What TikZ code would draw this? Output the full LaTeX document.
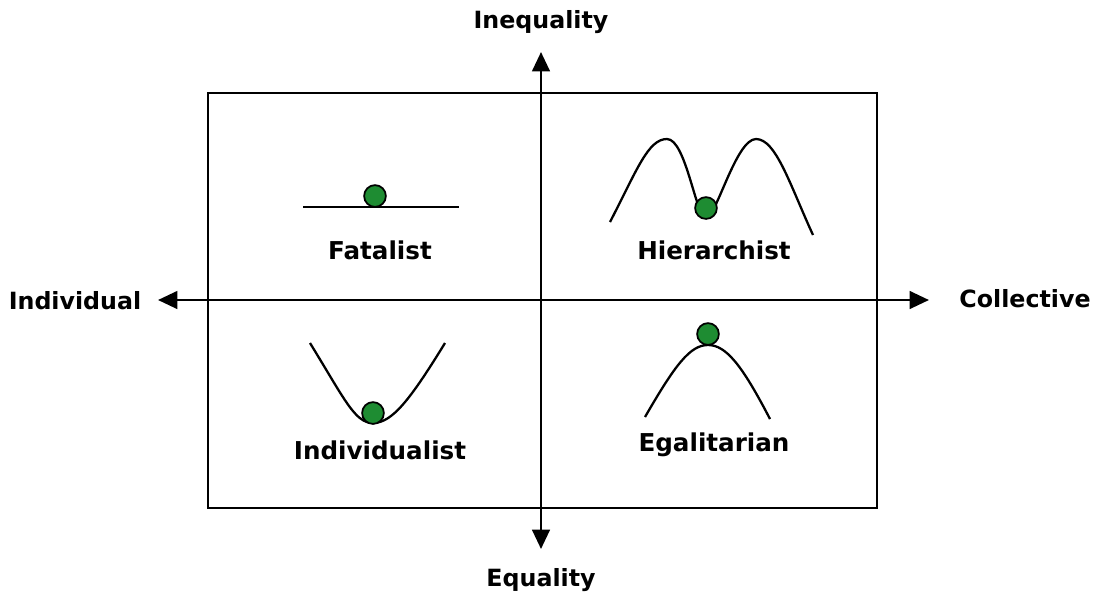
\documentclass[tikz,border=0pt]{standalone}
\usepackage{fontspec}
\setmainfont{DejaVu Sans}
\usetikzlibrary{arrows.meta}
\definecolor{ballgreen}{RGB}{30,140,50}

\begin{document}
\begin{tikzpicture}[
    x=0.02cm,y=-0.02cm,
    axis/.style={line width=1.5pt,{Triangle[length=11pt,width=10pt]}-{Triangle[length=11pt,width=10pt]}},
    frame/.style={line width=1.3pt},
    curve/.style={line width=1.3pt},
    ball/.style={draw=black,line width=1pt,fill=ballgreen},
    axlbl/.style={font=\bfseries\fontsize{13.5}{15}\selectfont},
    qlbl/.style={font=\bfseries\fontsize{14}{16}\selectfont}
]
\useasboundingbox (0,0) rectangle (1099,600);

% frame
\draw[frame] (208,93) rectangle (877,508);

% axes
\coordinate (top) at (541,52);
\coordinate (bot) at (541,549);
\coordinate (lft) at (158,300);
\coordinate (rgt) at (929,300);
\draw[axis] (bot) -- (top);
\draw[axis] (lft) -- (rgt);
\node[axlbl] (ineq) at (541,22) {Inequality};
\node[axlbl] (eq) at (541,580) {Equality};
\node[axlbl] (indiv) at (75,301) {Individual};
\node[axlbl] (coll) at (1025,299) {Collective};

% fatalist: flat
\draw[curve] (303,207) -- (459,207);
\filldraw[ball] (375,196) circle (6.2pt);
\node[qlbl] (fat) at (380,250) {Fatalist};

% hierarchist: double hump
\draw[curve] (610,222) .. controls (637,170) and (648,139) .. (667,139)
    .. controls (686,139) and (696,218) .. (706,218)
    .. controls (716,218) and (736,139) .. (756,139)
    .. controls (776,139) and (790,185) .. (813,235);
\filldraw[ball] (706,208) circle (6.2pt);
\node[qlbl] (hier) at (714,250) {Hierarchist};

% individualist: valley
\draw[curve] (310,343) .. controls (345,400) and (355,423) .. (373,423)
    .. controls (392,423) and (410,400) .. (445,343);
\filldraw[ball] (373,413) circle (6.2pt);
\node[qlbl] (ind) at (380,450) {Individualist};

% egalitarian: hill
\draw[curve] (645,417) .. controls (675,365) and (690,345) .. (708,345)
    .. controls (726,345) and (742,365) .. (770,419);
\filldraw[ball] (708,334) circle (6.2pt);
\node[qlbl] (ega) at (714,445) {Egalitarian};

\end{tikzpicture}
\end{document}
